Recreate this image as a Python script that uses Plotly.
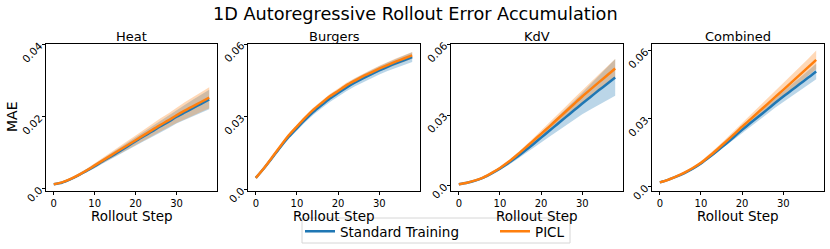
import plotly.graph_objects as go

steps = [0, 2, 4, 6, 8, 10, 12, 14, 16, 18, 20, 22, 24, 26, 28, 30, 32, 34, 36, 38]

panel_titles = ["Heat", "Burgers", "KdV", "Combined"]
series_names = ["Standard Training", "PICL"]

heat_std_mean = [0.0013, 0.0017, 0.0026, 0.0037, 0.0050, 0.0063, 0.0077, 0.0090, 0.0104, 0.0118,
                 0.0132, 0.0146, 0.0159, 0.0173, 0.0186, 0.0200, 0.0212, 0.0224, 0.0236, 0.0248]
heat_std_sd = [0.0001, 0.0002, 0.0003, 0.0004, 0.0005, 0.0006, 0.0007, 0.0008, 0.0010, 0.0011,
               0.0012, 0.0014, 0.0015, 0.0016, 0.0018, 0.0019, 0.0021, 0.0023, 0.0025, 0.0027]
heat_picl_mean = [0.0013, 0.0018, 0.0027, 0.0038, 0.0051, 0.0065, 0.0079, 0.0093, 0.0107, 0.0121,
                  0.0135, 0.0149, 0.0163, 0.0177, 0.0190, 0.0204, 0.0217, 0.0229, 0.0241, 0.0253]
heat_picl_sd = [0.0001, 0.0002, 0.0003, 0.0004, 0.0005, 0.0006, 0.0008, 0.0009, 0.0010, 0.0012,
                0.0013, 0.0015, 0.0016, 0.0018, 0.0019, 0.0021, 0.0023, 0.0025, 0.0027, 0.0029]

burgers_std_mean = [0.0048, 0.0088, 0.0131, 0.0176, 0.0218, 0.0254, 0.0289, 0.0321, 0.0349, 0.0376,
                    0.0399, 0.0421, 0.0441, 0.0459, 0.0476, 0.0492, 0.0507, 0.0521, 0.0534, 0.0547]
burgers_std_sd = [0.0002, 0.0003, 0.0005, 0.0007, 0.0009, 0.0010, 0.0011, 0.0012, 0.0013, 0.0014,
                  0.0014, 0.0015, 0.0016, 0.0016, 0.0017, 0.0017, 0.0018, 0.0019, 0.0019, 0.0020]
burgers_picl_mean = [0.0048, 0.0089, 0.0134, 0.0180, 0.0224, 0.0261, 0.0297, 0.0330, 0.0358, 0.0385,
                     0.0407, 0.0430, 0.0449, 0.0467, 0.0483, 0.0499, 0.0514, 0.0528, 0.0541, 0.0554]
burgers_picl_sd = [0.0002, 0.0003, 0.0004, 0.0005, 0.0006, 0.0007, 0.0008, 0.0009, 0.0009, 0.0010,
                   0.0010, 0.0011, 0.0011, 0.0012, 0.0012, 0.0012, 0.0013, 0.0013, 0.0014, 0.0014]

kdv_std_mean = [0.0006, 0.0012, 0.0021, 0.0034, 0.0052, 0.0072, 0.0095, 0.0120, 0.0147, 0.0175,
                0.0204, 0.0233, 0.0262, 0.0291, 0.0320, 0.0349, 0.0377, 0.0405, 0.0432, 0.0460]
kdv_std_sd = [0.0001, 0.0001, 0.0002, 0.0003, 0.0004, 0.0006, 0.0008, 0.0010, 0.0013, 0.0017,
              0.0021, 0.0025, 0.0030, 0.0035, 0.0040, 0.0046, 0.0053, 0.0060, 0.0069, 0.0078]
kdv_picl_mean = [0.0006, 0.0012, 0.0022, 0.0035, 0.0054, 0.0075, 0.0100, 0.0128, 0.0158, 0.0189,
                 0.0220, 0.0251, 0.0283, 0.0315, 0.0347, 0.0379, 0.0409, 0.0439, 0.0468, 0.0498]
kdv_picl_sd = [0.0001, 0.0001, 0.0002, 0.0002, 0.0003, 0.0004, 0.0005, 0.0007, 0.0009, 0.0011,
               0.0013, 0.0015, 0.0018, 0.0021, 0.0024, 0.0027, 0.0030, 0.0033, 0.0037, 0.0040]

comb_std_mean = [0.0020, 0.0031, 0.0045, 0.0061, 0.0080, 0.0103, 0.0130, 0.0159, 0.0189, 0.0220,
                 0.0251, 0.0281, 0.0310, 0.0339, 0.0369, 0.0398, 0.0425, 0.0453, 0.0480, 0.0508]
comb_std_sd = [0.0001, 0.0002, 0.0003, 0.0004, 0.0005, 0.0006, 0.0008, 0.0009, 0.0011, 0.0012,
               0.0014, 0.0016, 0.0018, 0.0019, 0.0021, 0.0023, 0.0026, 0.0028, 0.0031, 0.0034]
comb_picl_mean = [0.0020, 0.0031, 0.0046, 0.0063, 0.0083, 0.0106, 0.0135, 0.0166, 0.0198, 0.0231,
                  0.0265, 0.0297, 0.0330, 0.0362, 0.0395, 0.0427, 0.0460, 0.0493, 0.0526, 0.0559]
comb_picl_sd = [0.0001, 0.0002, 0.0003, 0.0004, 0.0005, 0.0007, 0.0009, 0.0011, 0.0013, 0.0015,
                0.0017, 0.0019, 0.0021, 0.0023, 0.0026, 0.0028, 0.0031, 0.0034, 0.0037, 0.0041]

y_tickvals = [[0.0, 0.02, 0.04], [0.0, 0.03, 0.06], [0.0, 0.03, 0.06], [0.0, 0.03, 0.06]]
y_ticktext = [["0.0", "0.02", "0.04"], ["0.0", "0.03", "0.06"], ["0.0", "0.03", "0.06"], ["0.0", "0.03", "0.06"]]
x_tickvals = [0, 10, 20, 30]
y_ranges = [[-0.0006, 0.0402], [-0.0006, 0.0601], [-0.0023, 0.0602], [-0.0018, 0.0629]]

panels = [
    (heat_std_mean, heat_std_sd, heat_picl_mean, heat_picl_sd),
    (burgers_std_mean, burgers_std_sd, burgers_picl_mean, burgers_picl_sd),
    (kdv_std_mean, kdv_std_sd, kdv_picl_mean, kdv_picl_sd),
    (comb_std_mean, comb_std_sd, comb_picl_mean, comb_picl_sd),
]

W, H = 830, 249
x_px = [(46, 217), (248, 420), (451, 623), (652, 824)]
y_top_px, y_bot_px = 44, 191

colors = ["#1f77b4", "#ff7f0e"]
fills = ["rgba(31,119,180,0.3)", "rgba(255,127,14,0.3)"]
FONT = "DejaVu Sans"

fig = go.Figure()
for i, (sm, ss, pm, ps) in enumerate(panels):
    xa = "x" if i == 0 else f"x{i+1}"
    ya = "y" if i == 0 else f"y{i+1}"
    for j, (m, s) in enumerate([(sm, ss), (pm, ps)]):
        lo = [a - b for a, b in zip(m, s)]
        hi = [a + b for a, b in zip(m, s)]
        fig.add_trace(go.Scatter(x=steps + steps[::-1], y=hi + lo[::-1], fill="toself",
                                 fillcolor=fills[j], line=dict(width=0), mode="lines",
                                 hoverinfo="skip", showlegend=False, xaxis=xa, yaxis=ya))
    for j, m in enumerate([sm, pm]):
        fig.add_trace(go.Scatter(x=steps, y=m, mode="lines", name=series_names[j],
                                 line=dict(color=colors[j], width=2.5, shape="spline", smoothing=0.6),
                                 showlegend=(i == 0), legendgroup=series_names[j],
                                 xaxis=xa, yaxis=ya))

layout = dict(
    width=W, height=H, margin=dict(l=0, r=0, t=0, b=0, autoexpand=False),
    paper_bgcolor="white", plot_bgcolor="white",
    font=dict(family=FONT, color="black"),
    showlegend=True,
    legend=dict(orientation="h", x=300 / W, xanchor="left", y=1 - 216 / H, yanchor="top",
                xref="container", yref="container",
                bgcolor="rgba(0,0,0,0)", borderwidth=0, font=dict(size=13.5, family=FONT),
                entrywidth=150, itemwidth=30, tracegroupgap=0),
    shapes=[dict(type="rect", xref="paper", yref="paper", x0=302 / W, x1=570 / W,
                 y0=1 - 243 / H, y1=1 - 218 / H, line=dict(color="#d6d6d6", width=1),
                 fillcolor="rgba(0,0,0,0)", layer="below")],
)
annotations = [dict(text="1D Autoregressive Rollout Error Accumulation", x=0.5, y=1 - 14 / H,
                    xref="paper", yref="paper", showarrow=False, xanchor="center", yanchor="middle",
                    font=dict(size=17.7, family=FONT))]
for i in range(4):
    sfx = "" if i == 0 else str(i + 1)
    x0, x1 = x_px[i]
    layout[f"xaxis{sfx}"] = dict(
        domain=[x0 / W, x1 / W], range=[-1.9, 39.9], anchor=f"y{sfx}",
        tickvals=x_tickvals, ticks="outside", ticklen=3, tickwidth=0.8, tickcolor="black",
        showline=True, linecolor="black", linewidth=0.8, mirror=True, showgrid=False,
        zeroline=False, tickfont=dict(size=10, family=FONT))
    layout[f"yaxis{sfx}"] = dict(
        domain=[1 - y_bot_px / H, 1 - y_top_px / H], range=y_ranges[i], anchor=f"x{sfx}",
        tickvals=y_tickvals[i], ticktext=y_ticktext[i], tickangle=-45,
        ticks="outside", ticklen=3.5, tickwidth=0.8, tickcolor="black",
        showline=True, linecolor="black", linewidth=0.8, mirror=True, showgrid=False,
        zeroline=False, tickfont=dict(size=10.5, family=FONT))
    annotations.append(dict(text=panel_titles[i], x=(x0 + x1) / 2 / W, y=1 - 36 / H,
                            xref="paper", yref="paper", showarrow=False, xanchor="center",
                            yanchor="middle", font=dict(size=13, family=FONT)))
    annotations.append(dict(text="Rollout Step", x=(x0 + x1) / 2 / W, y=1 - 216 / H,
                            xref="paper", yref="paper", showarrow=False, xanchor="center",
                            yanchor="middle", font=dict(size=13.5, family=FONT)))
annotations.append(dict(text="MAE", x=12 / W, y=1 - 117 / H, xref="paper", yref="paper",
                        showarrow=False, xanchor="center", yanchor="middle", textangle=-90,
                        font=dict(size=14, family=FONT)))
layout["annotations"] = annotations
fig.update_layout(**layout)
fig.write_html("out.html", config={"displayModeBar": False},
               post_script="document.body.style.margin='0';document.body.style.overflow='hidden';")
